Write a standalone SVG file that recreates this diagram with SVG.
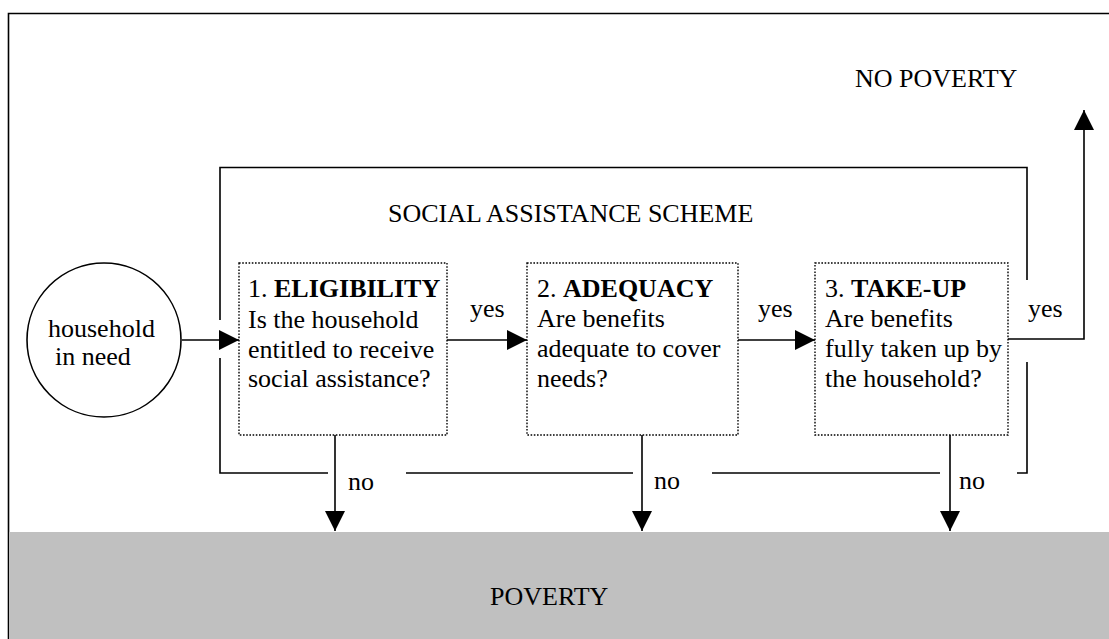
<svg xmlns="http://www.w3.org/2000/svg" width="1109" height="639" viewBox="0 0 1109 639">
<style>
text{font-family:"Liberation Serif","Times New Roman",serif;font-size:26px;fill:#000}
.b{font-weight:bold}
.ln{fill:none;stroke:#000;stroke-width:1.6}
.box{fill:#fff;stroke:#000;stroke-width:1.4;stroke-dasharray:1.6 1.6}
</style>
<defs>
<marker id="ah" markerUnits="userSpaceOnUse" markerWidth="20" markerHeight="20" refX="20" refY="10" orient="auto" viewBox="0 0 20 20">
<path d="M0,0 L20,10 L0,20 z" fill="#000"/>
</marker>
</defs>
<rect width="1109" height="639" fill="#fff"/>
<g id="frame">
<path class="ln" d="M8.5,639 V13.5 H1109" stroke-width="2"/>
</g>
<g id="poverty">
<rect x="9" y="532" width="1100" height="107" fill="#c0c0c0"/>
<text x="490" y="605">POVERTY</text>
</g>
<g id="no-poverty">
<text x="855" y="87">NO POVERTY</text>
</g>
<g id="scheme">
<path class="ln" d="M220,320 V167.5 H1027 V280"/>
<path class="ln" d="M220,358 V473 H328"/>
<path class="ln" d="M406,473 H633"/>
<path class="ln" d="M712,473 H940"/>
<path class="ln" d="M1017,473 H1027 V362"/>
<text x="388" y="222">SOCIAL ASSISTANCE SCHEME</text>
</g>
<g id="household">
<circle cx="104" cy="340" r="77" fill="#fff" stroke="#000" stroke-width="1.6"/>
<text x="48" y="337">household</text>
<text x="55" y="365">in need</text>
</g>
<g id="eligibility">
<rect class="box" x="239" y="263" width="208" height="172"/>
<text x="248" y="297">1. <tspan class="b">ELIGIBILITY</tspan></text>
<text x="248" y="328">Is the household</text>
<text x="248" y="358">entitled to receive</text>
<text x="248" y="387">social assistance?</text>
</g>
<g id="adequacy">
<rect class="box" x="527" y="263" width="211" height="172"/>
<text x="537" y="297">2. <tspan class="b">ADEQUACY</tspan></text>
<text x="537" y="327">Are benefits</text>
<text x="537" y="357">adequate to cover</text>
<text x="537" y="387">needs?</text>
</g>
<g id="takeup">
<rect class="box" x="815" y="263" width="193" height="172"/>
<text x="825" y="297">3. <tspan class="b">TAKE-UP</tspan></text>
<text x="825" y="327">Are benefits</text>
<text x="825" y="357">fully taken up by</text>
<text x="825" y="387">the household?</text>
</g>
<g id="connectors">
<path class="ln" d="M182,340 H239" marker-end="url(#ah)"/>
<path class="ln" d="M447,340 H527" marker-end="url(#ah)"/>
<path class="ln" d="M738,340 H815" marker-end="url(#ah)"/>
<path class="ln" d="M1008,339 H1084 V110" marker-end="url(#ah)"/>
<path class="ln" d="M335,435 V531" marker-end="url(#ah)"/>
<path class="ln" d="M642,435 V531" marker-end="url(#ah)"/>
<path class="ln" d="M950,435 V531" marker-end="url(#ah)"/>
<text x="470" y="317">yes</text>
<text x="758" y="317">yes</text>
<text x="1028" y="317">yes</text>
<text x="348" y="490">no</text>
<text x="654" y="489">no</text>
<text x="959" y="489">no</text>
</g>
</svg>
